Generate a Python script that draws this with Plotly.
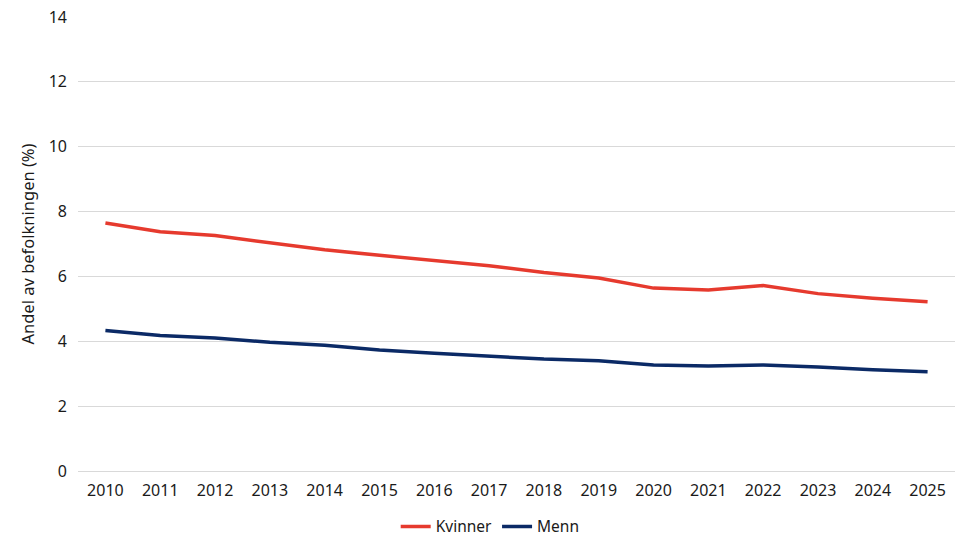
import plotly.graph_objects as go

years = [str(y) for y in range(2010, 2026)]
kvinner = [7.65, 7.38, 7.26, 7.05, 6.82, 6.65, 6.49, 6.33, 6.12, 5.95, 5.64, 5.58, 5.72, 5.47, 5.33, 5.22]
menn = [4.33, 4.18, 4.10, 3.97, 3.88, 3.73, 3.63, 3.54, 3.45, 3.40, 3.27, 3.24, 3.27, 3.21, 3.12, 3.06]
y_ticks = [0, 2, 4, 6, 8, 10, 12, 14]

FONT = "Noto Sans"
fig = go.Figure()
fig.add_trace(go.Scatter(x=years, y=kvinner, name="Kvinner", mode="lines",
                         line=dict(color="#E63A2E", width=3.5)))
fig.add_trace(go.Scatter(x=years, y=menn, name="Menn", mode="lines",
                         line=dict(color="#0B2A66", width=3.5)))

fig.update_layout(
    width=970, height=550,
    margin=dict(l=78, r=15, t=17, b=79, autoexpand=False),
    paper_bgcolor="white", plot_bgcolor="white",
    font=dict(family=FONT, size=16, color="#1a1a1a"),
    showlegend=True,
    legend=dict(orientation="h", x=0.47, xanchor="center", y=-0.123, yanchor="middle",
                font=dict(size=15.5, color="#1a1a1a"), itemwidth=30, tracegroupgap=0),
    xaxis=dict(type="category", range=[-0.5, 15.5], showgrid=False, automargin=False,
               showline=True, linecolor="#D9D9D9", linewidth=1, ticks="",
               tickfont=dict(size=16), ticklabelstandoff=5, fixedrange=True),
    yaxis=dict(range=[0, 14], tickvals=y_ticks, showgrid=True, gridcolor="#D9D9D9",
               gridwidth=1, zeroline=False, showline=False, ticks="", automargin=False,
               tickfont=dict(size=16), ticklabelstandoff=10,
               title=dict(text="Andel av befolkningen (%)", font=dict(size=16.5), standoff=9)),
)

fig.write_html("out.html")
